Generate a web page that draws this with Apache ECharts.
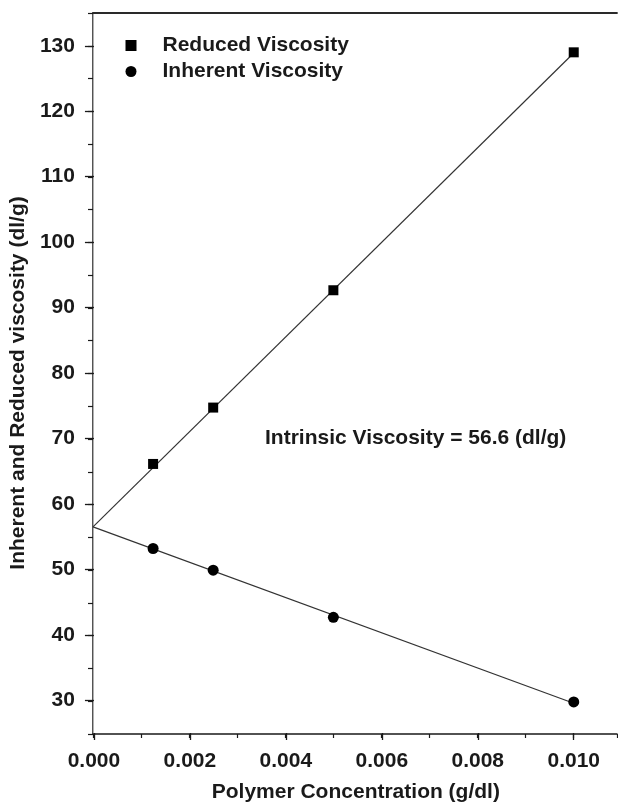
<!DOCTYPE html>
<html><head><meta charset="utf-8">
<script src="https://cdn.jsdelivr.net/npm/echarts@6/dist/echarts.min.js"></script>
<style>html,body{margin:0;padding:0;background:#fff}#c{width:618px;height:808px}</style>
</head><body><div id="c"></div>
<script>
const concentration = [0.00125, 0.0025, 0.005, 0.010];
const reducedViscosity = [66.2, 74.8, 92.7, 129.0];
const inherentViscosity = [53.3, 50.0, 42.8, 29.9];
const fitX = [0, 0.010];
const reducedFit = [56.6, 128.9];
const inherentFit = [56.6, 29.7];
const seriesNames = ['Reduced Viscosity', 'Inherent Viscosity'];
const annotation = 'Intrinsic Viscosity = 56.6 (dl/g)';
const xTitle = 'Polymer Concentration (g/dl)';
const yTitle = 'Inherent and Reduced viscosity (dl/g)';

const FONT = '"Liberation Sans", Arial, sans-serif';
const INK = '#1a1a1a';
const FS = 21;
const pairs = (xs, ys) => xs.map((x, i) => [x, ys[i]]);

const pxPerY = 721 / 110;
const pxPerX = 524 / 0.0109;
const g2top = 13 + 5 * pxPerY;
const g2bottom = 808 - (734 - 5 * pxPerY);
const g2right = 618 - (93 + 0.010 * pxPerX);

const chart = echarts.init(document.getElementById('c'), null, {renderer: 'canvas'});
chart.setOption({
  animation: false,
  backgroundColor: '#fff',
  grid: [
    {left: 93, top: 13, right: 1, bottom: 74},
    {left: 93, top: g2top, right: g2right, bottom: g2bottom}
  ],
  xAxis: [
    {gridIndex: 0, type: 'value', min: 0, max: 0.0109, interval: 0.001, position: 'bottom',
     axisLine: {show: true, lineStyle: {color: INK, width: 1.5}},
     axisTick: {show: true, length: 4, lineStyle: {color: INK, width: 1.2}},
     axisLabel: {show: false}, splitLine: {show: false}},
    {gridIndex: 0, type: 'value', min: 0, max: 0.0109, position: 'top',
     axisLine: {show: true, lineStyle: {color: '#2a2a2a', width: 1.8}},
     axisTick: {show: false}, axisLabel: {show: false}, splitLine: {show: false}},
    {gridIndex: 1, type: 'value', min: 0, max: 0.010, interval: 0.002, position: 'bottom',
     offset: 734 - (808 - g2bottom),
     axisLine: {show: false},
     axisTick: {show: true, length: 7, lineStyle: {color: INK, width: 1.3}},
     axisLabel: {show: true, margin: 18, color: INK, fontFamily: FONT, fontWeight: 'bold', fontSize: FS,
                 formatter: v => v.toFixed(3)},
     splitLine: {show: false},
     name: xTitle, nameLocation: 'middle', nameGap: 49,
     nameTextStyle: {color: INK, fontFamily: FONT, fontWeight: 'bold', fontSize: FS, padding: [0, 0, 0, 44]}}
  ],
  yAxis: [
    {gridIndex: 0, type: 'value', min: 25, max: 135, interval: 5, position: 'left',
     axisLine: {show: true, lineStyle: {color: INK, width: 1.5}},
     axisTick: {show: true, length: 5, lineStyle: {color: INK, width: 1.2}},
     axisLabel: {show: false}, splitLine: {show: false}},
    {gridIndex: 0, type: 'value', min: 25, max: 135, position: 'right',
     axisLine: {show: true, lineStyle: {color: '#b0b0b0', width: 1}},
     axisTick: {show: false}, axisLabel: {show: false}, splitLine: {show: false}},
    {gridIndex: 1, type: 'value', min: 30, max: 130, interval: 10, position: 'left',
     axisLine: {show: false},
     axisTick: {show: true, length: 9, lineStyle: {color: INK, width: 1.3}},
     axisLabel: {show: true, margin: 19, color: INK, fontFamily: FONT, fontWeight: 'bold', fontSize: FS},
     splitLine: {show: false},
     name: yTitle, nameLocation: 'middle', nameGap: 59, nameRotate: 90,
     nameTextStyle: {color: INK, fontFamily: FONT, fontWeight: 'bold', fontSize: FS, padding: [0, 20, 0, 0]}}
  ],
  legend: {
    data: seriesNames, orient: 'vertical', left: 120.5, top: 30,
    itemWidth: 11, itemHeight: 11, itemGap: 5,
    itemStyle: {opacity: 1},
    textStyle: {color: INK, fontFamily: FONT, fontWeight: 'bold', fontSize: FS, lineHeight: 21,
                padding: [0, 0, 0, 21]}
  },
  graphic: [{
    type: 'text', left: 265, top: 428,
    style: {text: annotation, fill: INK, font: 'bold 21px ' + FONT}
  }],
  series: [
    {name: 'reducedFit', type: 'line', xAxisIndex: 0, yAxisIndex: 0, data: pairs(fitX, reducedFit),
     showSymbol: false, lineStyle: {color: '#333', width: 1.2}, silent: true, z: 2},
    {name: 'inherentFit', type: 'line', xAxisIndex: 0, yAxisIndex: 0, data: pairs(fitX, inherentFit),
     showSymbol: false, lineStyle: {color: '#333', width: 1.2}, silent: true, z: 2},
    {name: seriesNames[0], type: 'scatter', xAxisIndex: 0, yAxisIndex: 0, data: pairs(concentration, reducedViscosity),
     symbol: 'rect', symbolSize: 10, itemStyle: {color: '#000', opacity: 1}, z: 3},
    {name: seriesNames[1], type: 'scatter', xAxisIndex: 0, yAxisIndex: 0, data: pairs(concentration, inherentViscosity),
     symbol: 'circle', symbolSize: 11, itemStyle: {color: '#000', opacity: 1}, z: 3}
  ]
});
</script>
</body></html>
